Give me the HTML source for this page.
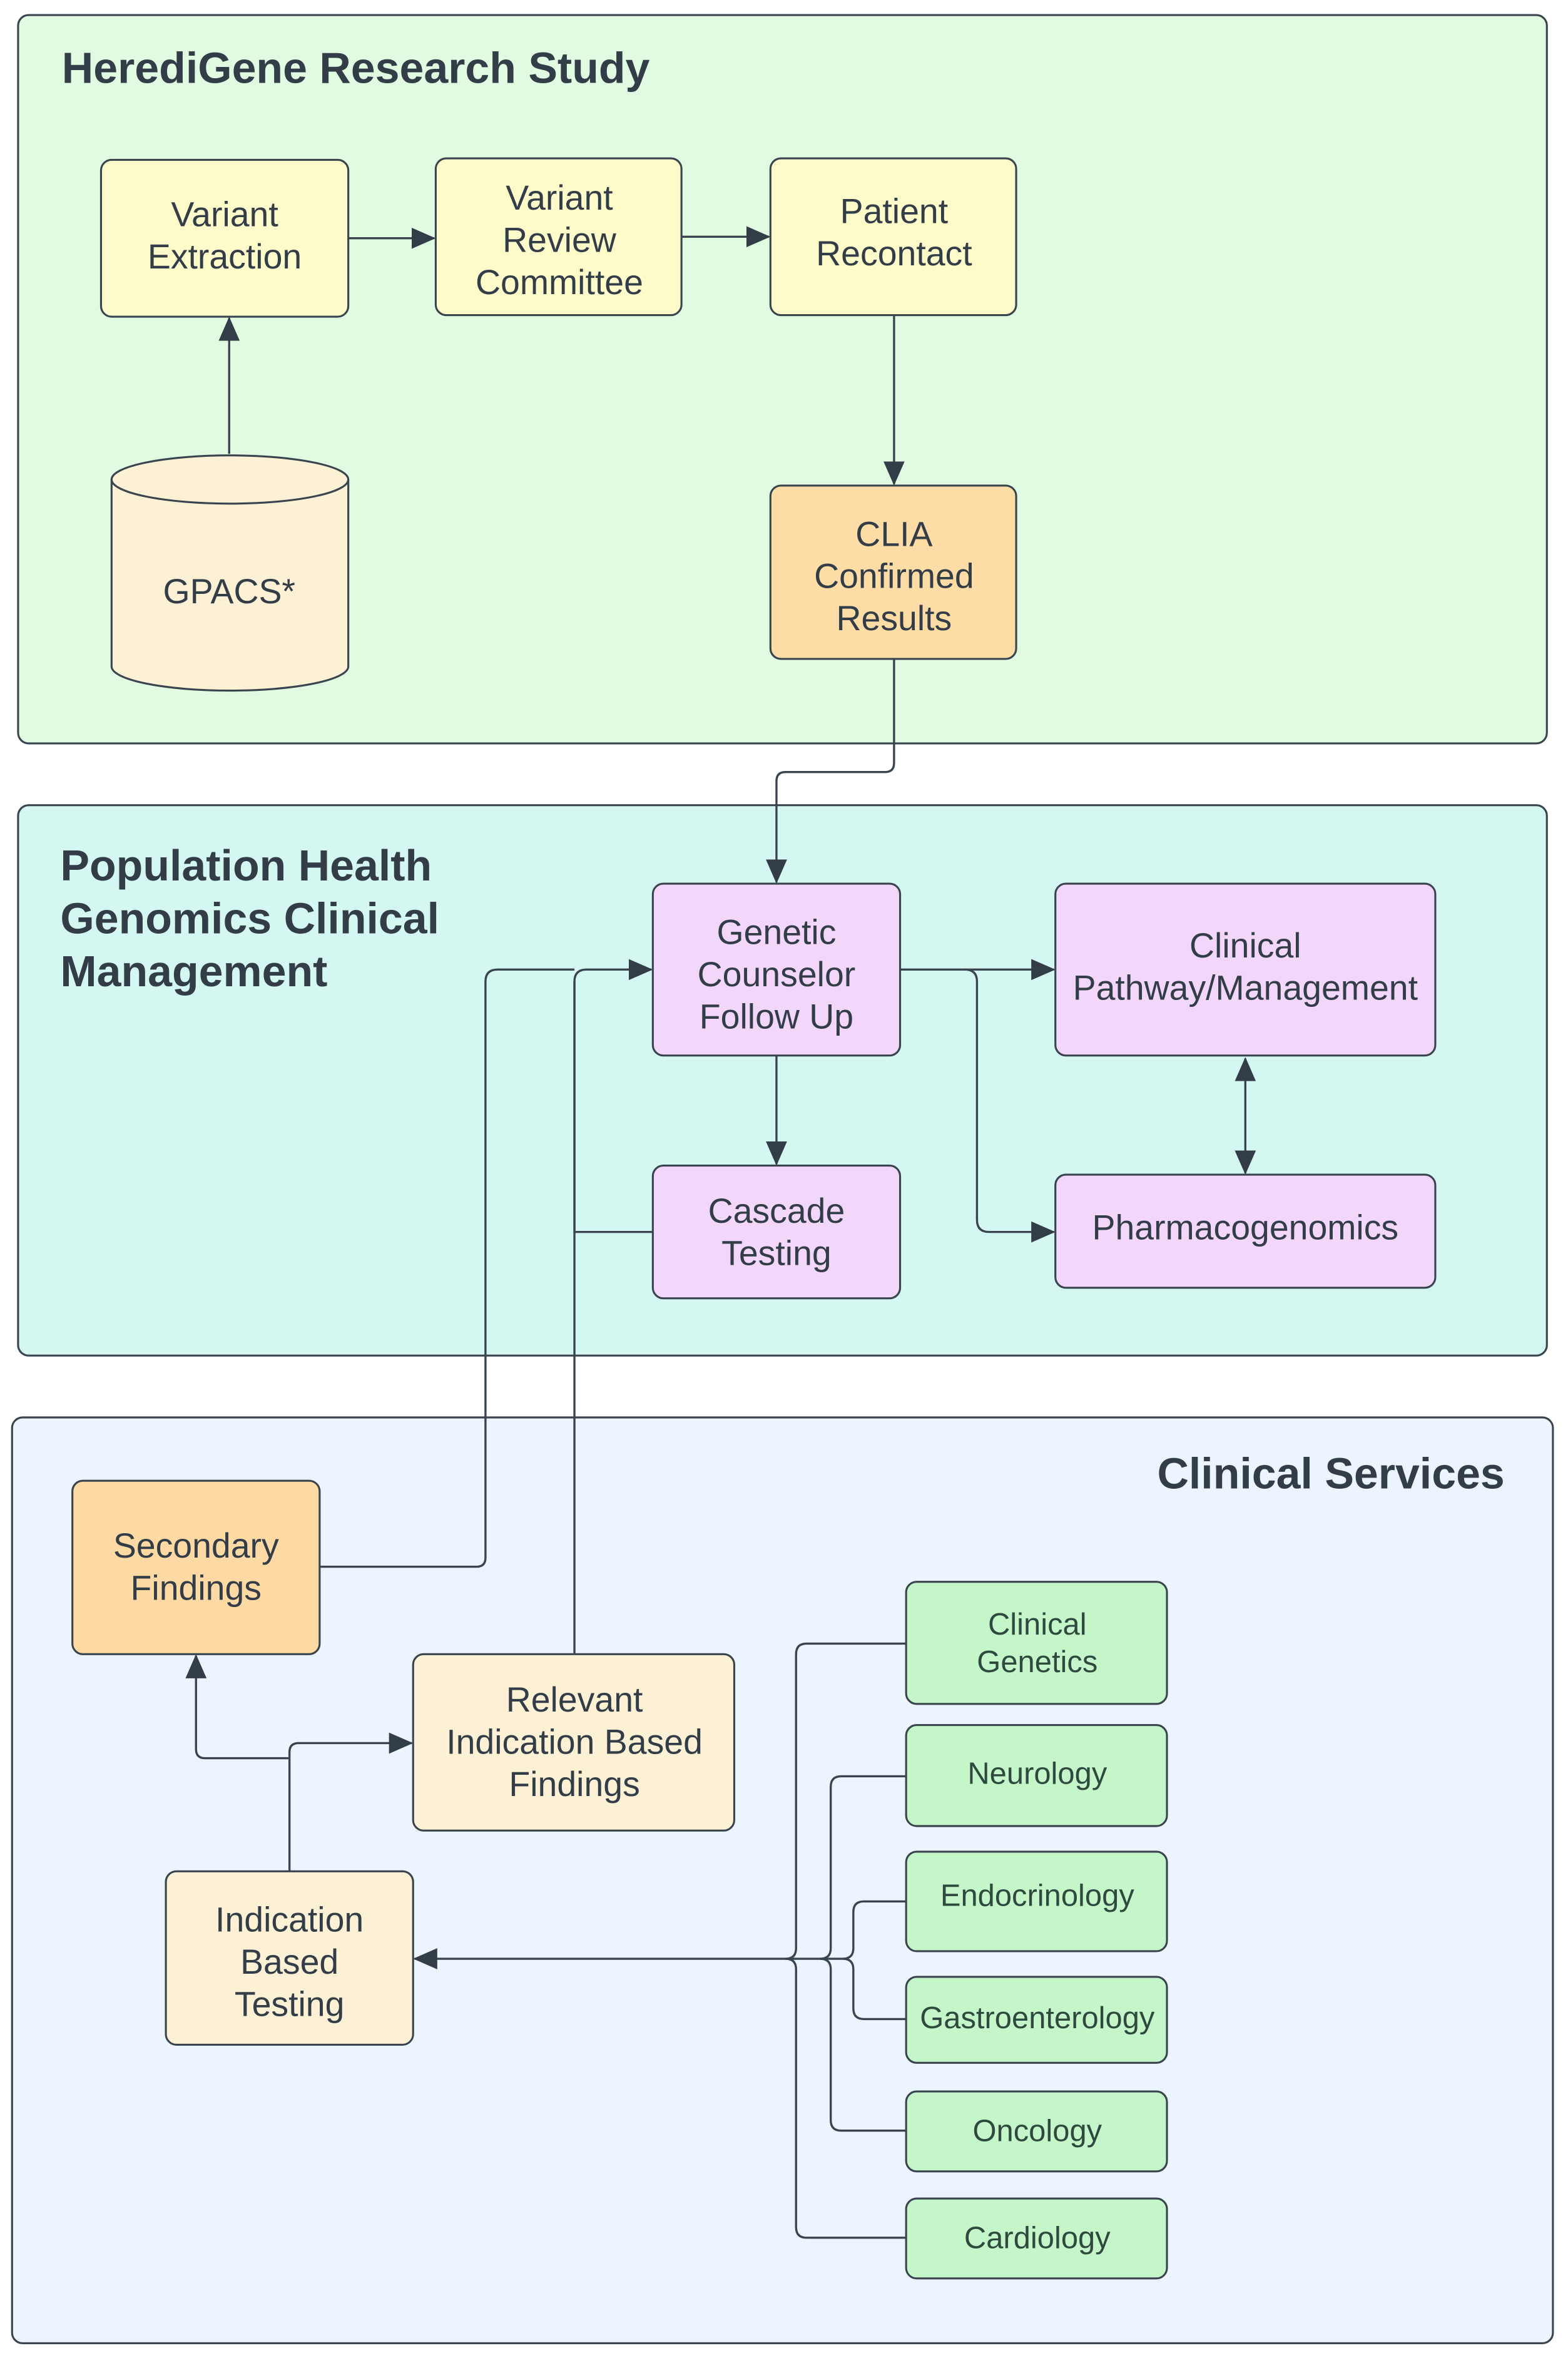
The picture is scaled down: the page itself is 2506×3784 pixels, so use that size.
<!DOCTYPE html>
<html><head><meta charset="utf-8"><style>
html,body{margin:0;padding:0;background:#fff;}
svg{display:block;}
text{font-family:"Liberation Sans",sans-serif;fill:#333d47;}
.t{font-size:23px;text-anchor:middle;}
.g{font-size:20.3px;text-anchor:middle;fill:#2e4a3e;}
.h{font-size:29px;font-weight:bold;}
.b{stroke:#3a444e;stroke-width:1.3;}
.l{fill:none;stroke:#3a444e;stroke-width:1.4;}
</style></head><body>
<svg width="2506" height="3784" viewBox="0 0 1040 1570.4" xmlns="http://www.w3.org/2000/svg">
<defs>
<marker id="a" markerUnits="userSpaceOnUse" markerWidth="16" markerHeight="14" refX="15" refY="7" orient="auto"><path d="M0,0 L16,7 L0,14 Z" fill="#333d47"/></marker>
<marker id="s" markerUnits="userSpaceOnUse" markerWidth="16" markerHeight="14" refX="1" refY="7" orient="auto"><path d="M16,0 L0,7 L16,14 Z" fill="#333d47"/></marker>
</defs>
<rect width="1040" height="1570.4" fill="#fff"/>
<rect x="12" y="10" width="1014" height="483" rx="7" fill="#e1fbe2" class="b"/>
<rect x="12" y="534" width="1014" height="365" rx="7" fill="#d4f8f1" class="b"/>
<rect x="8" y="940" width="1022" height="614" rx="7" fill="#ecf4fd" class="b"/>
<text x="41" y="55" class="h">HerediGene Research Study</text>
<text x="40" y="584" class="h">Population Health</text>
<text x="40" y="619" class="h">Genomics Clinical</text>
<text x="40" y="654" class="h">Management</text>
<text x="998" y="987" class="h" text-anchor="end">Clinical Services</text>

<path class="l" d="M231,158 H288" marker-end="url(#a)"/>
<path class="l" d="M452,157 H510" marker-end="url(#a)"/>
<path class="l" d="M152,301 V211" marker-end="url(#a)"/>
<path class="l" d="M593,209 V321" marker-end="url(#a)"/>
<path class="l" d="M593,437 V506 Q593,512 587,512 H521 Q515,512 515,518 V585" marker-end="url(#a)"/>
<path class="l" d="M597,643 H699" marker-end="url(#a)"/>
<path class="l" d="M640,643 Q648,643 648,651 V809 Q648,817 656,817 H699" marker-end="url(#a)"/>
<path class="l" d="M826,702 V778" marker-start="url(#s)" marker-end="url(#a)"/>
<path class="l" d="M515,700 V772" marker-end="url(#a)"/>
<path class="l" d="M433,817 H381 V651 Q381,643 389,643 H432" marker-end="url(#a)"/>
<path class="l" d="M381,1097 V651"/>
<path class="l" d="M212,1039 H316 Q322,1039 322,1033 V651 Q322,643 330,643 H381"/>
<path class="l" d="M192,1241 V1162 Q192,1156 198,1156 H273" marker-end="url(#a)"/>
<path class="l" d="M192,1166 H136 Q130,1166 130,1160 V1098" marker-end="url(#a)"/>
<path class="l" d="M559,1299 H275" marker-end="url(#a)"/>
<path class="l" d="M601,1090 H535 Q528,1090 528,1097 V1292 Q528,1299 521,1299"/>
<path class="l" d="M601,1484 H535 Q528,1484 528,1477 V1306 Q528,1299 521,1299"/>
<path class="l" d="M601,1178 H558 Q551,1178 551,1185 V1292 Q551,1299 544,1299"/>
<path class="l" d="M601,1413 H558 Q551,1413 551,1406 V1306 Q551,1299 544,1299"/>
<path class="l" d="M601,1261 H573 Q566,1261 566,1268 V1292 Q566,1299 559,1299"/>
<path class="l" d="M601,1339 H573 Q566,1339 566,1332 V1306 Q566,1299 559,1299"/>

<rect x="67" y="106" width="164" height="104" rx="7" fill="#fdfbca" class="b"/>
<text class="t" x="149" y="150">Variant</text><text class="t" x="149" y="178">Extraction</text>
<rect x="289" y="105" width="163" height="104" rx="7" fill="#fdfbca" class="b"/>
<text class="t" x="371" y="139">Variant</text><text class="t" x="371" y="167">Review</text><text class="t" x="371" y="195">Committee</text>
<rect x="511" y="105" width="163" height="104" rx="7" fill="#fdfbca" class="b"/>
<text class="t" x="593" y="148">Patient</text><text class="t" x="593" y="176">Recontact</text>
<rect x="511" y="322" width="163" height="115" rx="7" fill="#fddca5" class="b"/>
<text class="t" x="593" y="362">CLIA</text><text class="t" x="593" y="390">Confirmed</text><text class="t" x="593" y="418">Results</text>
<path d="M74,318 V442 A78.5,16 0 0 0 231,442 V318 A78.5,16 0 0 0 74,318 Z" fill="#fdf1d5" class="b"/>
<path d="M74,318 A78.5,16 0 0 0 231,318" fill="none" class="b"/>
<text class="t" x="152" y="400">GPACS*</text>

<rect x="433" y="586" width="164" height="114" rx="7" fill="#f2d7fb" class="b"/>
<text class="t" x="515" y="626">Genetic</text><text class="t" x="515" y="654">Counselor</text><text class="t" x="515" y="682">Follow Up</text>
<rect x="700" y="586" width="252" height="114" rx="7" fill="#f2d7fb" class="b"/>
<text class="t" x="826" y="635">Clinical</text><text class="t" x="826" y="663">Pathway/Management</text>
<rect x="433" y="773" width="164" height="88" rx="7" fill="#f2d7fb" class="b"/>
<text class="t" x="515" y="811">Cascade</text><text class="t" x="515" y="839">Testing</text>
<rect x="700" y="779" width="252" height="75" rx="7" fill="#f2d7fb" class="b"/>
<text class="t" x="826" y="822">Pharmacogenomics</text>

<rect x="48" y="982" width="164" height="115" rx="7" fill="#fdd9a3" class="b"/>
<text class="t" x="130" y="1033">Secondary</text><text class="t" x="130" y="1061">Findings</text>
<rect x="274" y="1097" width="213" height="117" rx="7" fill="#fdf1d5" class="b"/>
<text class="t" x="381" y="1135">Relevant</text><text class="t" x="381" y="1163">Indication Based</text><text class="t" x="381" y="1191">Findings</text>
<rect x="110" y="1241" width="164" height="115" rx="7" fill="#fdf1d5" class="b"/>
<text class="t" x="192" y="1281">Indication</text><text class="t" x="192" y="1309">Based</text><text class="t" x="192" y="1337">Testing</text>

<rect x="601" y="1049" width="173" height="81" rx="7" fill="#c4f6c9" class="b"/>
<text class="g" x="688" y="1084">Clinical</text><text class="g" x="688" y="1109">Genetics</text>
<rect x="601" y="1144" width="173" height="67" rx="7" fill="#c4f6c9" class="b"/>
<text class="g" x="688" y="1183">Neurology</text>
<rect x="601" y="1228" width="173" height="66" rx="7" fill="#c4f6c9" class="b"/>
<text class="g" x="688" y="1264">Endocrinology</text>
<rect x="601" y="1311" width="173" height="57" rx="7" fill="#c4f6c9" class="b"/>
<text class="g" x="688" y="1345">Gastroenterology</text>
<rect x="601" y="1387" width="173" height="53" rx="7" fill="#c4f6c9" class="b"/>
<text class="g" x="688" y="1420">Oncology</text>
<rect x="601" y="1458" width="173" height="53" rx="7" fill="#c4f6c9" class="b"/>
<text class="g" x="688" y="1491">Cardiology</text>
</svg>
</body></html>
